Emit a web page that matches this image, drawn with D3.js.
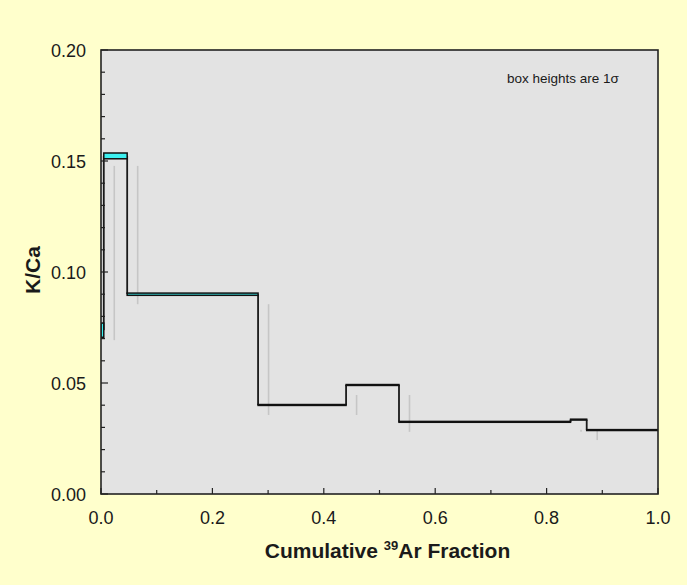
<!DOCTYPE html>
<html>
<head>
<meta charset="utf-8">
<script src="https://cdn.jsdelivr.net/npm/d3@7/dist/d3.min.js"></script>
<style>
  html, body { margin: 0; padding: 0; background: #ffffcc; }
  svg { display: block; }
  text { font-family: "Liberation Sans", Arial, sans-serif; fill: #1a1a1a; }
</style>
</head>
<body>
<svg id="chart" width="687" height="585"></svg>
<script>
// Step boundaries along the cumulative 39Ar release
const fractionEdges = [0, 0.005, 0.047, 0.282, 0.440, 0.535, 0.843, 0.872, 1.0];
// K/Ca of each heating step and its 1-sigma uncertainty
const kcaValues = [0.0738, 0.1523, 0.0900, 0.0401, 0.0491, 0.0325, 0.0335, 0.0288];
const kcaSigma  = [0.0032, 0.0013, 0.0005, 0.0002, 0.0002, 0.0002, 0.0002, 0.0002];
// Axis ticks
const xTicks = [0, 0.1, 0.2, 0.3, 0.4, 0.5, 0.6, 0.7, 0.8, 0.9, 1.0];
const xTickLabels = ["0.0", "0.2", "0.4", "0.6", "0.8", "1.0"];
const yTicks = d3.range(0, 21).map(i => i / 100);
const yTickLabels = ["0.00", "0.05", "0.10", "0.15", "0.20"];

const svg = d3.select("#chart");
const plot = { left: 101, right: 658, top: 50, bottom: 494 };

const x = d3.scaleLinear().domain([0, 1]).range([plot.left, plot.right]);
const y = d3.scaleLinear().domain([0, 0.2]).range([plot.bottom, plot.top]);

// Plot area
svg.append("rect")
  .attr("x", plot.left).attr("y", plot.top)
  .attr("width", plot.right - plot.left).attr("height", plot.bottom - plot.top)
  .attr("fill", "#e3e3e3");

svg.append("clipPath").attr("id", "clip")
  .append("rect")
  .attr("x", plot.left).attr("y", plot.top)
  .attr("width", plot.right - plot.left).attr("height", plot.bottom - plot.top);

const g = svg.append("g").attr("clip-path", "url(#clip)");

const steps = kcaValues.map((v, i) => ({
  x0: fractionEdges[i], x1: fractionEdges[i + 1], v, s: kcaSigma[i]
}));
const joins = steps.slice(1).map((d, i) => ({ xb: d.x0, a: steps[i].v, b: d.v }));

// Soft drop shadow under the step risers
const sdx = 10.5, sdy = 10;
g.selectAll("line.shadow").data(joins).join("line")
  .attr("class", "shadow")
  .attr("x1", d => x(d.xb) + sdx).attr("x2", d => x(d.xb) + sdx)
  .attr("y1", d => y(d.a) + sdy).attr("y2", d => y(d.b) + sdy)
  .attr("stroke", "#c6c6c6").attr("stroke-width", 1.6);

// Risers joining adjacent steps
g.selectAll("line.riser").data(joins).join("line")
  .attr("class", "riser")
  .attr("x1", d => x(d.xb)).attr("x2", d => x(d.xb))
  .attr("y1", d => y(d.a)).attr("y2", d => y(d.b))
  .attr("stroke", "#1a1a1a").attr("stroke-width", 1.8);

// One box per step, height = +/- 1 sigma
g.selectAll("rect.step").data(steps).join("rect")
  .attr("class", "step")
  .attr("x", d => x(d.x0))
  .attr("width", d => x(d.x1) - x(d.x0))
  .attr("y", d => y(d.v + d.s))
  .attr("height", d => Math.max(0.8, y(d.v - d.s) - y(d.v + d.s)))
  .attr("fill", "#3cf0f0")
  .attr("stroke", "#111").attr("stroke-width", 1.5);

// Frame
svg.append("rect")
  .attr("x", plot.left).attr("y", plot.top)
  .attr("width", plot.right - plot.left).attr("height", plot.bottom - plot.top)
  .attr("fill", "none").attr("stroke", "#222").attr("stroke-width", 1.6);

// Inward ticks
const isMajorY = t => Math.abs(t * 20 - Math.round(t * 20)) < 1e-6;
svg.append("g").selectAll("line").data(yTicks).join("line")
  .attr("x1", plot.left).attr("x2", t => plot.left + (isMajorY(t) ? 7 : 4))
  .attr("y1", t => y(t)).attr("y2", t => y(t))
  .attr("stroke", "#222").attr("stroke-width", 1.2);

const isMajorX = t => Math.abs(t * 5 - Math.round(t * 5)) < 1e-6;
svg.append("g").selectAll("line").data(xTicks).join("line")
  .attr("y1", plot.bottom).attr("y2", t => plot.bottom - (isMajorX(t) ? 6 : 4))
  .attr("x1", t => x(t)).attr("x2", t => x(t))
  .attr("stroke", "#222").attr("stroke-width", 1.2);

// Tick labels
svg.append("g").selectAll("text").data(yTickLabels).join("text")
  .attr("x", 86).attr("y", d => y(+d) + 6.5)
  .attr("text-anchor", "end")
  .attr("font-size", 18)
  .text(d => d);

svg.append("g").selectAll("text").data(xTickLabels).join("text")
  .attr("x", d => x(+d)).attr("y", 524)
  .attr("text-anchor", "middle")
  .attr("font-size", 18)
  .text(d => d);

// Axis titles
const xt = svg.append("text")
  .attr("x", (plot.left + plot.right) / 2 + 8).attr("y", 558)
  .attr("text-anchor", "middle")
  .attr("font-size", 21).attr("font-weight", "bold");
xt.append("tspan").text("Cumulative ");
xt.append("tspan").attr("font-size", 13).attr("dy", -8).text("39");
xt.append("tspan").attr("dy", 8).text("Ar Fraction");

svg.append("text")
  .attr("transform", "translate(40,270) rotate(-90)")
  .attr("text-anchor", "middle")
  .attr("font-size", 21).attr("font-weight", "bold")
  .text("K/Ca");

// Note
svg.append("text")
  .attr("x", 507).attr("y", 83)
  .attr("font-size", 13.5)
  .text("box heights are 1σ");
</script>
</body>
</html>
